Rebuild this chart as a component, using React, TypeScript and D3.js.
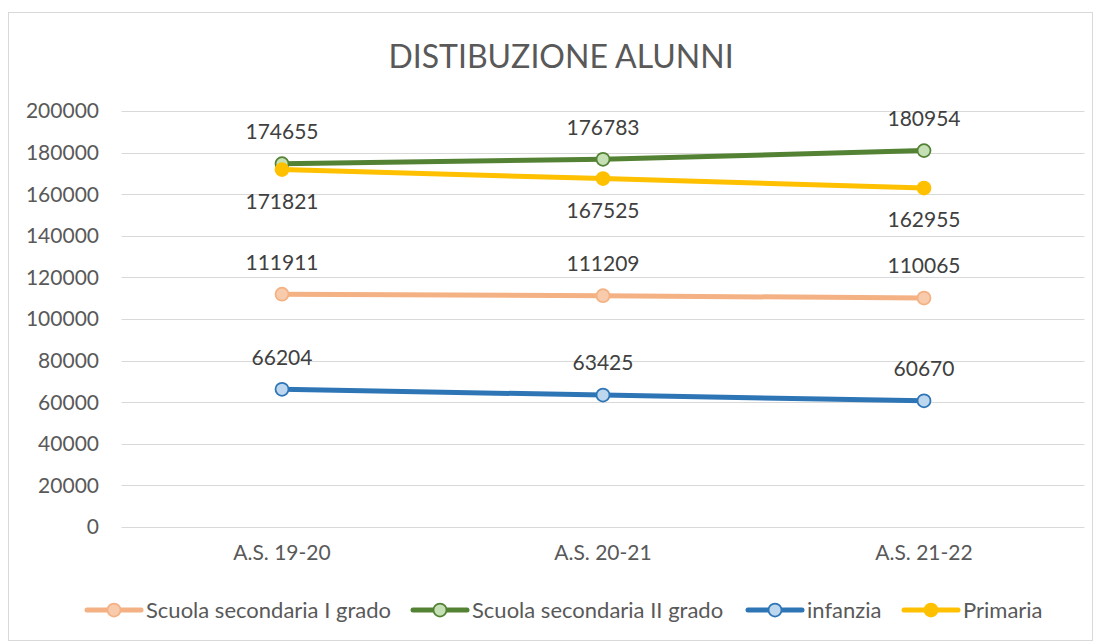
import React from "react";
import * as d3 from "d3";

const categories = ["A.S. 19-20", "A.S. 20-21", "A.S. 21-22"];
const seriesNames = ["Scuola secondaria I grado", "Scuola secondaria II grado", "infanzia", "Primaria"];
const secondaria1 = [111911, 111209, 110065];
const secondaria2 = [174655, 176783, 180954];
const infanzia = [66204, 63425, 60670];
const primaria = [171821, 167525, 162955];
const yTicks = [0, 20000, 40000, 60000, 80000, 100000, 120000, 140000, 160000, 180000, 200000];

const series = [
  { name: seriesNames[0], values: secondaria1, stroke: "#F4B183", fill: "#F8CBAD", mstroke: "#F4B183", labelPos: "above" },
  { name: seriesNames[1], values: secondaria2, stroke: "#548235", fill: "#C5E0B4", mstroke: "#548235", labelPos: "above" },
  { name: seriesNames[2], values: infanzia, stroke: "#2E75B6", fill: "#BDD7EE", mstroke: "#2E75B6", labelPos: "above" },
  { name: seriesNames[3], values: primaria, stroke: "#FFC000", fill: "#FFC000", mstroke: "#FFC000", labelPos: "below" },
];

const FONT = "Lato, 'Open Sans', sans-serif";
const TXT = "#595959";

export default function App() {
  const W = 1102, H = 644;
  const left = 121.5, right = 1084.5, top = 111, bottom = 527;
  const x = d3.scaleBand<string>().domain(categories).range([left, right]);
  const y = d3.scaleLinear().domain([0, 200000]).range([bottom, top]);
  const cx = (c: string) => (x(c) as number) + x.bandwidth() / 2;
  const line = d3.line<number>().x((_, i) => cx(categories[i])).y((v) => y(v)).curve(d3.curveLinear);

  const legendItems = [
    { s: series[0], lx: 87 },
    { s: series[1], lx: 413 },
    { s: series[2], lx: 748 },
    { s: series[3], lx: 904 },
  ];

  return (
    <svg width={W} height={H} style={{ position: "absolute", left: 0, top: 0 }}>
      <rect x={0} y={0} width={W} height={H} fill="#fff" />
      <rect x={8.5} y={12.5} width={1084} height={628} fill="#fff" stroke="#D9D9D9" strokeWidth={1} />
      <text x={561} y={68} textAnchor="middle" fontFamily={FONT} fontSize={32} fill={TXT}>DISTIBUZIONE ALUNNI</text>
      {yTicks.map((t) => (
        <g key={t}>
          <line x1={left} x2={right} y1={Math.round(y(t)) + 0.5} y2={Math.round(y(t)) + 0.5} stroke="#D9D9D9" strokeWidth={1} />
          <text x={99} y={y(t)} dy="0.35em" textAnchor="end" fontFamily={FONT} fontSize={21} fill={TXT}>{t}</text>
        </g>
      ))}
      {categories.map((c) => (
        <text key={c} x={cx(c)} y={560} textAnchor="middle" fontFamily={FONT} fontSize={21} fill={TXT}>{c}</text>
      ))}
      {series.map((s) => (
        <g key={s.name}>
          <path d={line(s.values) || ""} fill="none" stroke={s.stroke} strokeWidth={5} strokeLinecap="round" />
          {s.values.map((v, i) => (
            <circle key={i} cx={cx(categories[i])} cy={y(v)} r={6.5} fill={s.fill} stroke={s.mstroke} strokeWidth={1.75} />
          ))}
        </g>
      ))}
      {series.map((s) =>
        s.values.map((v, i) => (
          <text key={s.name + i} x={cx(categories[i])} y={y(v) + (s.labelPos === "above" ? -32 : 32)} dy="0.35em"
            textAnchor="middle" fontFamily={FONT} fontSize={21} fill="#404040">{v}</text>
        ))
      )}
      {legendItems.map(({ s, lx }) => (
        <g key={s.name}>
          <line x1={lx} x2={lx + 54} y1={610} y2={610} stroke={s.stroke} strokeWidth={5} strokeLinecap="round" />
          <circle cx={lx + 27} cy={610} r={6.5} fill={s.fill} stroke={s.mstroke} strokeWidth={1.75} />
          <text x={lx + 59} y={610} dy="0.35em" fontFamily={FONT} fontSize={22} fill={TXT}>{s.name}</text>
        </g>
      ))}
    </svg>
  );
}
